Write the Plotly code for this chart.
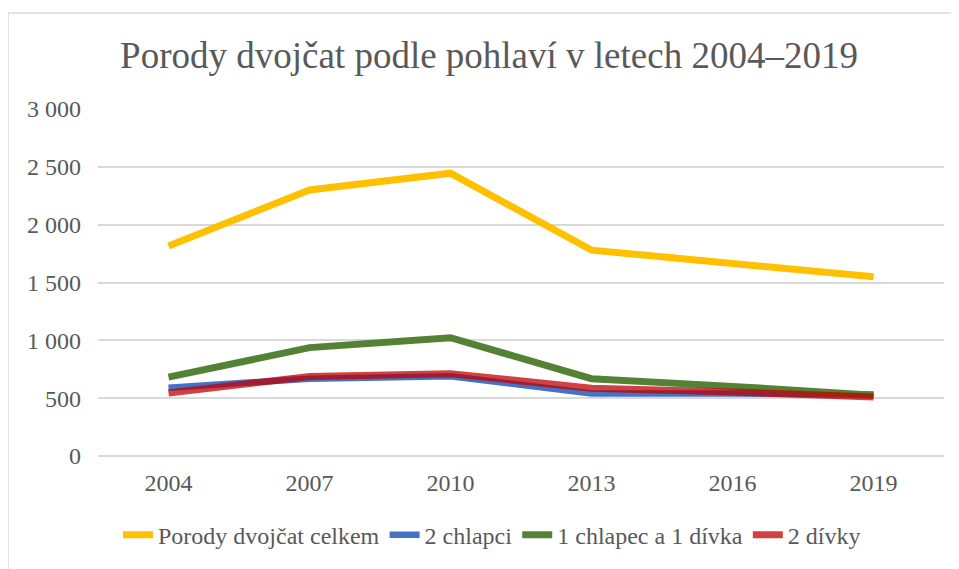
import plotly.graph_objects as go

years = ["2004", "2007", "2010", "2013", "2016", "2019"]
celkem = [1815, 2300, 2445, 1780, 1665, 1550]
chlapci = [591, 668, 690, 540, 540, 531]
chlapec_divka = [682, 937, 1023, 668, 602, 525]
divky = [545, 688, 712, 585, 554, 511]
y_ticks = [0, 500, 1000, 1500, 2000, 2500, 3000]
y_tick_labels = ["0", "500", "1 000", "1 500", "2 000", "2 500", "3 000"]

FONT = "Liberation Serif, Times New Roman, serif"
GREY = "#595959"

fig = go.Figure()
fig.add_trace(go.Scatter(x=years, y=celkem, name="Porody dvojčat celkem", mode="lines",
                         line=dict(color="#FFC000", width=7)))
fig.add_trace(go.Scatter(x=years, y=chlapci, name="2 chlapci", mode="lines",
                         line=dict(color="#4472C4", width=6.5)))
fig.add_trace(go.Scatter(x=years, y=chlapec_divka, name="1 chlapec a 1 dívka", mode="lines",
                         line=dict(color="#548235", width=7)))
fig.add_trace(go.Scatter(x=years, y=divky, name="2 dívky", mode="lines",
                         line=dict(color="rgba(192,0,0,0.74)", width=7)))

OFF = 8  # page body offset
W, H = 959 - OFF, 569 - OFF
L = 98 - OFF
R = W - (944 - OFF)
T = 109 - OFF
B = H - (460 - OFF)
pw = W - L - R
ph = H - T - B

def px2x(px):
    return (px - OFF - L) / pw

def px2y(py):
    return (H - B - (py - OFF)) / ph

fig.update_layout(
    width=W, height=H,
    margin=dict(l=L, r=R, t=T, b=B),
    paper_bgcolor="white", plot_bgcolor="white",
    font=dict(family=FONT, color=GREY, size=24),
    title=dict(text="Porody dvojčat podle pohlaví v letech 2004–2019",
               font=dict(family=FONT, size=37, color=GREY),
               x=px2x(489), xref="paper", xanchor="center",
               y=1 - (55 - OFF) / H, yref="container", yanchor="middle"),
    showlegend=True,
    legend=dict(orientation="h", x=px2x(492), xanchor="center", y=px2y(540), yanchor="middle",
                font=dict(family=FONT, size=24, color=GREY),
                bgcolor="rgba(0,0,0,0)", tracegroupgap=0),
    xaxis=dict(type="category", range=[-0.5, 5.5], showgrid=False, zeroline=False,
               showline=False, ticks="", ticklabelstandoff=10,
               tickfont=dict(family=FONT, size=24, color=GREY), fixedrange=True),
    yaxis=dict(range=[0, 3000], tickvals=y_ticks, ticktext=y_tick_labels,
               showgrid=True, gridcolor="#D9D9D9", gridwidth=1.5,
               zeroline=True, zerolinecolor="#D9D9D9", zerolinewidth=1.5,
               showline=False, ticks="", ticklabelstandoff=16,
               tickfont=dict(family=FONT, size=24, color=GREY), fixedrange=True),
    shapes=[dict(type="rect", xref="paper", yref="paper",
                 x0=px2x(8), x1=px2x(975), y0=px2y(590), y1=px2y(12),
                 line=dict(color="#D9D9D9", width=1.5), fillcolor="rgba(0,0,0,0)", layer="below")],
)

fig.write_html("out.html")
